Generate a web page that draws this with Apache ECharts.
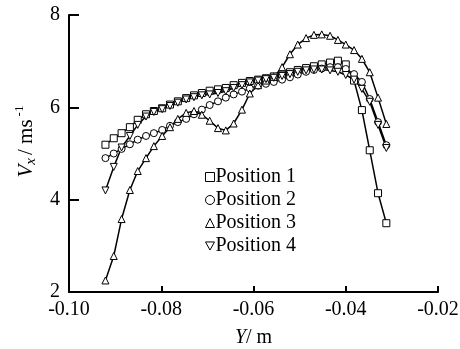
<!DOCTYPE html>
<html>
<head>
<meta charset="utf-8">
<script src="https://cdn.jsdelivr.net/npm/echarts@6/dist/echarts.min.js"></script>
<style>
  html, body { margin: 0; padding: 0; background: #fff; }
  #chart { width: 460px; height: 349px; }
</style>
</head>
<body>
<div id="chart"></div>
<script>
// positions along Y (m)
const yPos = [
  -0.0921, -0.0903, -0.0886, -0.0868, -0.0851, -0.0833, -0.0816, -0.0798, -0.0781,
  -0.0764, -0.0746, -0.0729, -0.0712, -0.0695, -0.0677, -0.0660, -0.0643, -0.0625,
  -0.0608, -0.0590, -0.0573, -0.0556, -0.0538, -0.0521, -0.0504, -0.0486, -0.0469,
  -0.0452, -0.0434, -0.0417, -0.0400, -0.0382, -0.0365, -0.0348, -0.0330, -0.0312
];

// Vx at each position
const pos1 = [
  5.19, 5.33, 5.44, 5.57, 5.73, 5.85, 5.92, 5.98, 6.06,
  6.13, 6.20, 6.26, 6.31, 6.36, 6.39, 6.42, 6.48, 6.53,
  6.57, 6.60, 6.63, 6.67, 6.71, 6.76, 6.81, 6.85, 6.89,
  6.93, 6.97, 7.01, 6.93, 6.58, 5.94, 5.07, 4.14, 3.49
];
const pos2 = [
  4.90, 5.00, 5.10, 5.20, 5.30, 5.38, 5.44, 5.51, 5.60,
  5.68, 5.75, 5.85, 5.95, 6.05, 6.13, 6.21, 6.28, 6.34,
  6.41, 6.47, 6.51, 6.55, 6.60, 6.65, 6.71, 6.77, 6.81,
  6.84, 6.87, 6.87, 6.83, 6.72, 6.55, 6.18, 5.68, 5.18
];
const pos3 = [
  2.25, 2.78, 3.58, 4.21, 4.62, 4.90, 5.16, 5.38, 5.57,
  5.75, 5.88, 5.92, 5.84, 5.71, 5.55, 5.50, 5.65, 5.95,
  6.30, 6.48, 6.58, 6.66, 6.87, 7.15, 7.36, 7.50, 7.57,
  7.58, 7.55, 7.46, 7.36, 7.24, 7.05, 6.76, 6.21, 5.64
];
const pos4 = [
  4.20, 4.71, 5.13, 5.38, 5.62, 5.80, 5.90, 5.96, 6.03,
  6.10, 6.17, 6.22, 6.26, 6.28, 6.31, 6.35, 6.42, 6.48,
  6.54, 6.58, 6.61, 6.64, 6.68, 6.72, 6.77, 6.80, 6.82,
  6.82, 6.80, 6.77, 6.70, 6.60, 6.40, 6.12, 5.62, 5.12
];

const names = ['Position 1', 'Position 2', 'Position 3', 'Position 4'];
const FONT = 'Liberation Serif';

const chart = echarts.init(document.getElementById('chart'));

function pairs(vals) {
  return yPos.map((x, i) => [x, vals[i]]);
}

function mkSeries(name, vals, symbol, rotate) {
  return {
    name: name,
    type: 'line',
    data: pairs(vals),
    symbol: symbol,
    symbolSize: 7,
    symbolRotate: rotate || 0,
    showAllSymbol: true,
    lineStyle: { color: '#000', width: 1.5 },
    itemStyle: { color: '#fff', borderColor: '#000', borderWidth: 1 },
    emphasis: { disabled: true },
    animation: false
  };
}

const option = {
  backgroundColor: '#fff',
  animation: false,
  textStyle: { fontFamily: FONT, color: '#000' },
  grid: { left: 69, right: 22, top: 15, bottom: 57, outerBoundsMode: 'none' },
  legend: {
    orient: 'vertical',
    left: 200,
    top: 162,
    itemWidth: 9,
    itemHeight: 9,
    itemGap: 3,
    textStyle: { fontFamily: FONT, fontSize: 20, color: '#000', padding: [0, 0, 0, -4] },
    itemStyle: { color: '#fff', borderColor: '#000', borderWidth: 1 },
    data: [
      { name: names[0], icon: 'rect' },
      { name: names[1], icon: 'circle' },
      { name: names[2], icon: 'triangle' },
      { name: names[3], icon: 'path://M0,0 L10,0 L5,9 Z' }
    ]
  },
  xAxis: {
    type: 'value',
    min: -0.10,
    max: -0.02,
    interval: 0.02,
    name: '{i|Y}/ m',
    nameLocation: 'middle',
    nameGap: 36,
    nameTextStyle: {
      fontFamily: FONT, fontSize: 20, color: '#000',
      rich: { i: { fontFamily: FONT, fontSize: 20, fontStyle: 'italic', color: '#000' } }
    },
    axisLine: { lineStyle: { color: '#000', width: 2 } },
    axisTick: { inside: true, length: 6, lineStyle: { color: '#000', width: 2 } },
    axisLabel: {
      fontFamily: FONT, fontSize: 20, color: '#000', margin: 8,
      formatter: v => v.toFixed(2)
    },
    splitLine: { show: false }
  },
  yAxis: {
    type: 'value',
    min: 2,
    max: 8,
    interval: 2,
    name: '{v|V}{sub|x}{n|/ ms}{sup|-1}',
    nameLocation: 'middle',
    nameGap: 30,
    nameTextStyle: {
      fontFamily: FONT, fontSize: 20, color: '#000', padding: [0, 0, 0, 24],
      rich: {
        v: { fontFamily: FONT, fontSize: 21, fontStyle: 'italic', color: '#000', height: 26, verticalAlign: 'middle' },
        sub: { fontFamily: FONT, fontSize: 15, fontStyle: 'italic', color: '#000', verticalAlign: 'bottom', padding: [0, 3, 0, 0] },
        n: { fontFamily: FONT, fontSize: 21, color: '#000', verticalAlign: 'middle' },
        sup: { fontFamily: FONT, fontSize: 13, color: '#000', verticalAlign: 'top', padding: [0, 0, 0, 3] }
      }
    },
    axisLine: { show: true, lineStyle: { color: '#000', width: 2 } },
    axisTick: { show: true, inside: true, length: 10, lineStyle: { color: '#000', width: 2 } },
    axisLabel: { fontFamily: FONT, fontSize: 20, color: '#000', margin: 9 },
    splitLine: { show: false }
  },
  series: [
    mkSeries(names[0], pos1, 'rect'),
    mkSeries(names[1], pos2, 'circle'),
    mkSeries(names[2], pos3, 'triangle'),
    mkSeries(names[3], pos4, 'triangle', 180)
  ]
};

chart.setOption(option);
</script>
</body>
</html>
